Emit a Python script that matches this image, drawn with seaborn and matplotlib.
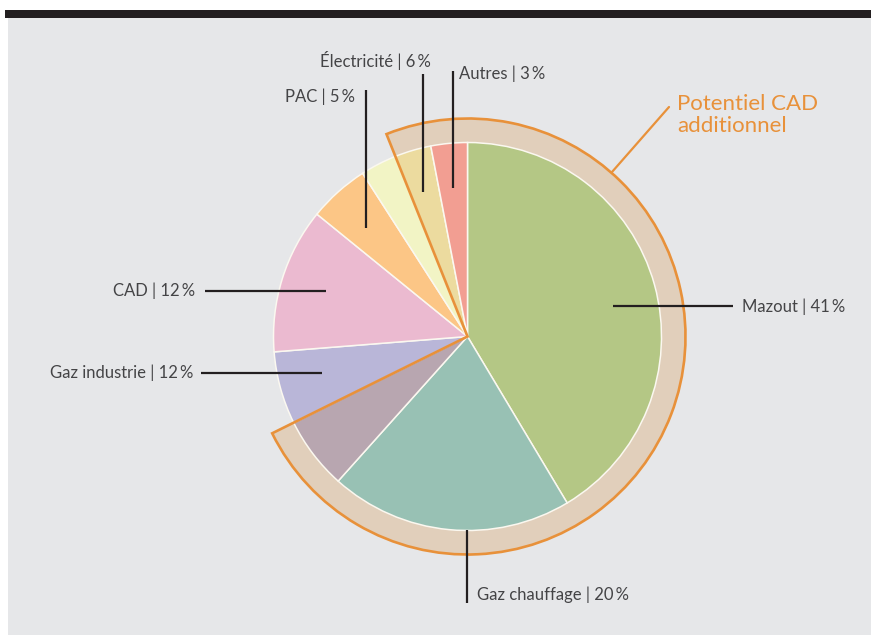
import numpy as np
import matplotlib
matplotlib.use('Agg')
import matplotlib.pyplot as plt
from matplotlib.patches import Wedge, Rectangle
import seaborn as sns

# Données (ordre horaire depuis midi)
slice_names = ['Mazout', 'Gaz chauffage', 'Gaz industrie', 'Gaz industrie',
               'CAD', 'PAC', 'Électricité', 'Électricité', 'Autres']
slice_values = [41, 20, 6, 6, 12, 5, 3, 3, 3]
slice_colors = ['#b4c785', '#98c1b4', '#b8a6b0', '#b9b6d8',
                '#ebbad0', '#fcc686', '#f2f4c5', '#ecdb9f', '#f29e92']

# slices inside "Potentiel CAD additionnel" ring: from index 7 through index 2
ring_first = 7
ring_last = 2

label_names = ['Mazout', 'Gaz chauffage', 'Gaz industrie', 'CAD', 'PAC', 'Électricité', 'Autres']
label_pcts = [41, 20, 12, 12, 5, 6, 3]

W, H = 871, 635
sns.set_theme(style='white')
plt.rcParams['font.family'] = ['Lato', 'DejaVu Sans']

fig = plt.figure(figsize=(W / 100, H / 100), dpi=100)
fig.patch.set_facecolor('white')
fig.add_artist(Rectangle((8 / W, 0), 1, (H - 18) / H, transform=fig.transFigure,
                         facecolor='#e6e7e9', edgecolor='none', zorder=-10))
fig.add_artist(Rectangle((5 / W, (H - 18) / H), 1, 8 / H, transform=fig.transFigure,
                         facecolor='#231f20', edgecolor='none', zorder=-10))

ax = fig.add_axes([0, 0, 1, 1])
ax.set_facecolor('none')


def px(x, y):
    # pixel coords from top-left -> data coords
    return (x, H - y)


center = px(467.5, 336.5)
R = 194
R_ring = 218

ax.pie(slice_values, colors=slice_colors, startangle=90, counterclock=False,
       center=center, radius=R, frame=True,
       wedgeprops=dict(edgecolor='#fbf8f0', linewidth=1.1, zorder=2))

# ring angles
total = sum(slice_values)
cum = np.concatenate([[0], np.cumsum(slice_values)]) / total
start_cw = cum[ring_first] * 360          # clockwise from top
end_cw = cum[ring_last + 1] * 360
theta_end = 90 - start_cw + 360           # matplotlib angle (ccw from +x)
theta_start = 90 - end_cw

orange = '#e8913a'
ax.add_patch(Wedge(center, R_ring, theta_start, theta_end,
                   facecolor='#e1cfbb', edgecolor='none', zorder=1))
ax.add_patch(Wedge(center, R_ring, theta_start, theta_end,
                   facecolor='none', edgecolor=orange, linewidth=1.9, zorder=4))

# leader lines and labels
line_kw = dict(color='#231f20', linewidth=1.6, zorder=5, solid_capstyle='butt')
txt_kw = dict(fontsize=12, color='#444446', fontweight='normal', va='center')


def lbl(i):
    return f'{label_names[i]} | {label_pcts[i]}\u2009%'


leaders = [
    # (line start, line end, text pos, ha)
    ((613, 306), (733, 306), (742, 307), 'left'),
    ((466.5, 530), (466.5, 603), (477, 595), 'left'),
    ((322, 373), (201, 373), (193, 373), 'right'),
    ((326, 291), (205, 291), (195, 291), 'right'),
    ((366, 228), (366, 90), (355, 97), 'right'),
    ((423, 192), (423, 74), (431, 61), 'right'),
    ((453, 188), (453, 71), (459, 74), 'left'),
]

for i, (p0, p1, pt, ha) in enumerate(leaders):
    a, b = px(*p0), px(*p1)
    ax.plot([a[0], b[0]], [a[1], b[1]], **line_kw)
    ax.text(*px(*pt), lbl(i), ha=ha, **txt_kw)

a, b = px(612, 172), px(669, 107)
ax.plot([a[0], b[0]], [a[1], b[1]], color=orange, linewidth=1.6, zorder=5)
ax.text(*px(677, 94), 'Potentiel CAD\nadditionnel', ha='left', va='top',
        fontsize=16, color=orange, fontweight='normal', linespacing=1.1)

ax.set_xlim(0, W)
ax.set_ylim(0, H)
ax.set_aspect('equal')
ax.axis('off')

plt.savefig('out.png', dpi=100)
plt.close()
